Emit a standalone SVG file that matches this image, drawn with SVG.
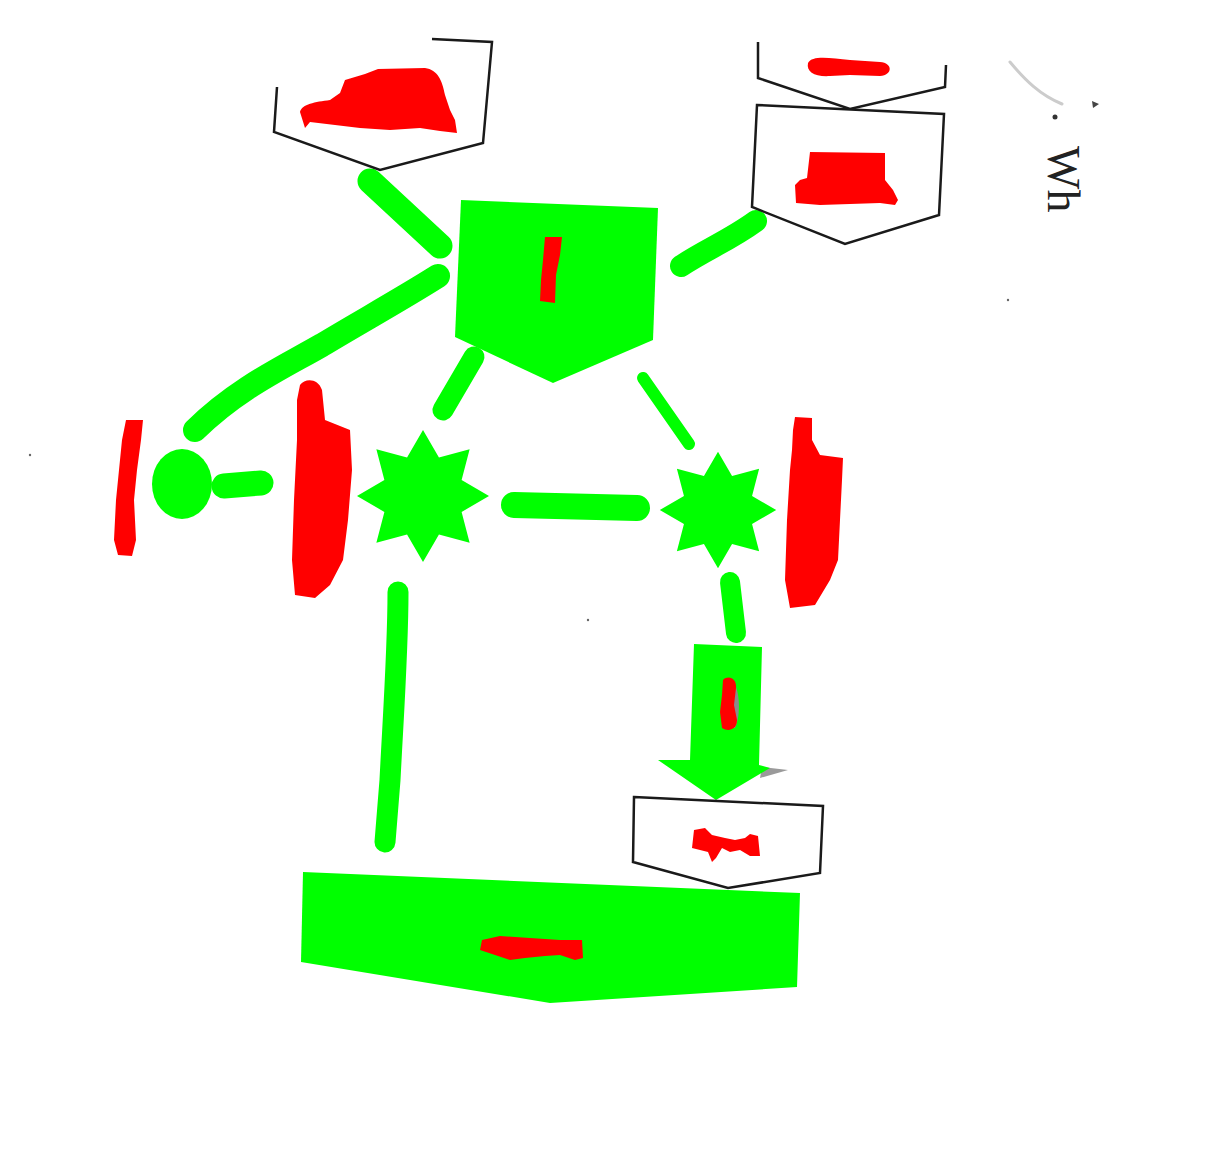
<svg xmlns="http://www.w3.org/2000/svg" width="1213" height="1156" viewBox="0 0 1213 1156">
  <defs>
    <path id="star8" d="M0,-60 L14.5,-35.1 L42.4,-42.4 L35.1,-14.5 L60,0 L35.1,14.5 L42.4,42.4 L14.5,35.1 L0,60 L-14.5,35.1 L-42.4,42.4 L-35.1,14.5 L-60,0 L-35.1,-14.5 L-42.4,-42.4 L-14.5,-35.1 Z"/>
  </defs>
  <style>
    .outline { fill: #ffffff; stroke: #1a1a1a; stroke-width: 2.5; stroke-linejoin: miter; }
    .green { fill: #00ff00; }
    .red { fill: #ff0000; }
    .conn { fill: none; stroke: #00ff00; stroke-linecap: round; stroke-linejoin: round; }
    .curl { fill: none; stroke: #cccccc; stroke-width: 3; stroke-linecap: round; }
    .scan { font-family: "Liberation Serif", "DejaVu Serif", serif; fill: #222222; }
    .speck { fill: #666666; }
  </style>
  <rect x="0" y="0" width="1213" height="1156" fill="#ffffff"/>
  <path class="curl" d="M1010,62 C1025,80 1040,95 1062,104"/>
  <circle cx="1055" cy="117" r="2.5" fill="#333333"/>
  <path d="M1092,101 L1099,104 L1093,108 Z" fill="#444444"/>
  <text class="scan" x="1048" y="146" font-size="46" transform="rotate(90 1048 146)">Wh</text>

  <g id="connectors">
    <path class="conn" stroke-width="25" d="M370,181 L440,246"/>
    <path class="conn" stroke-width="24" d="M438,276 C400,300 360,322 322,345 C282,368 238,388 195,430"/>
    <path class="conn" stroke-width="25" d="M224,486 L261,483"/>
    <path class="conn" stroke-width="21" d="M474,357 L443,410"/>
    <path class="conn" stroke-width="12" d="M643,378 L689,444"/>
    <path class="conn" stroke-width="22" d="M756,221 C730,240 705,250 681,266"/>
    <path class="conn" stroke-width="26" d="M514,505 L637,508"/>
    <path class="conn" stroke-width="20" d="M730,582 L736,633"/>
    <path class="conn" stroke-width="21" d="M398,592 C398,650 393,720 390,780 L385,842"/>
  </g>

  <g id="node-top-left">
    <polyline class="outline" points="432,39 492,42 483,143 380,170 274,132 277,87"/>
    <path class="red" d="M300,112 C302,104 315,102 330,100 L340,93 L345,80 L365,74 L378,69 L425,68 C438,70 442,80 445,95 L450,110 L455,120 L457,133 L440,131 L420,128 L390,130 L360,128 L335,125 L310,122 L305,128 Z"/>
  </g>

  <g id="node-top-right-upper">
    <polyline class="outline" points="758,42 758,78 850,109 945,87 946,65"/>
    <path class="red" d="M808,63 C812,55 830,58 850,60 L880,62 C893,63 893,75 880,76 L850,75 L830,76 C815,77 806,72 808,63 Z"/>
  </g>

  <g id="node-top-right-lower">
    <polygon class="outline" points="757,105 944,114 939,215 845,244 752,207"/>
    <path class="red" d="M810,152 L885,153 L885,180 L893,190 L898,200 L895,205 L880,203 L850,204 L820,205 L796,203 L795,185 L800,180 L807,178 Z"/>
  </g>

  <g id="node-center">
    <polygon class="green" points="461,200 658,208 653,340 553,383 455,337"/>
    <path class="red" d="M545,237 L562,237 L560,255 L556,275 L555,303 L540,301 L541,280 L543,260 Z"/>
  </g>

  <g id="node-circle">
    <ellipse class="green" cx="182" cy="484" rx="30" ry="35"/>
    <path class="red" d="M126,420 L143,420 L141,440 L137,470 L134,500 L136,540 L132,556 L118,555 L114,540 L116,500 L119,470 L122,440 Z"/>
  </g>

  <g id="node-left-label">
    <path class="red" d="M300,385 C305,378 318,378 322,390 L325,420 L350,430 L352,470 L348,520 L343,560 L330,585 L315,598 L295,595 L292,560 L294,500 L297,440 L297,400 Z"/>
  </g>

  <g id="node-left-star">
    <use href="#star8" class="green" transform="translate(423,496) scale(1.1)"/>
  </g>

  <g id="node-right-star">
    <use href="#star8" class="green" transform="translate(718,510) scale(0.97)"/>
  </g>

  <g id="node-right-label">
    <path class="red" d="M795,417 L812,418 L812,440 L820,455 L843,458 L842,480 L840,520 L838,560 L830,580 L815,605 L790,608 L785,580 L787,520 L790,470 L792,450 L793,430 Z"/>
  </g>

  <g id="node-arrow">
    <polygon points="762,767 788,770 760,778" fill="#9a9a9a"/>
    <polygon class="green" points="694,644 762,647 759,765 770,768 716,800 658,760 690,760"/>
    <path d="M733,682 C740,690 741,715 735,728 L730,728 Z" fill="#8a8a8a"/>
    <path class="red" d="M723,680 C728,675 737,678 736,688 L734,705 L737,720 C737,730 728,732 722,728 L720,712 L722,695 Z"/>
  </g>

  <g id="node-bottom">
    <polygon class="green" points="303,872 800,893 797,987 550,1003 301,962"/>
    <path class="red" d="M482,940 L500,936 L530,938 L560,940 L582,940 L583,958 L575,960 L560,955 L545,956 L525,958 L510,960 L495,955 L480,950 Z"/>
  </g>

  <g id="node-bottom-right">
    <polygon class="outline" points="634,797 823,806 820,873 728,888 633,862"/>
    <path class="red" d="M694,830 L705,828 L712,835 L725,838 L735,840 L745,838 L750,834 L758,836 L760,856 L750,856 L740,850 L730,852 L722,848 L716,858 L712,862 L708,852 L700,850 L692,848 Z"/>
  </g>

  <circle class="speck" cx="30" cy="455" r="1.2"/>
  <circle class="speck" cx="588" cy="620" r="1.2"/>
  <circle class="speck" cx="1008" cy="300" r="1.2"/>
</svg>
